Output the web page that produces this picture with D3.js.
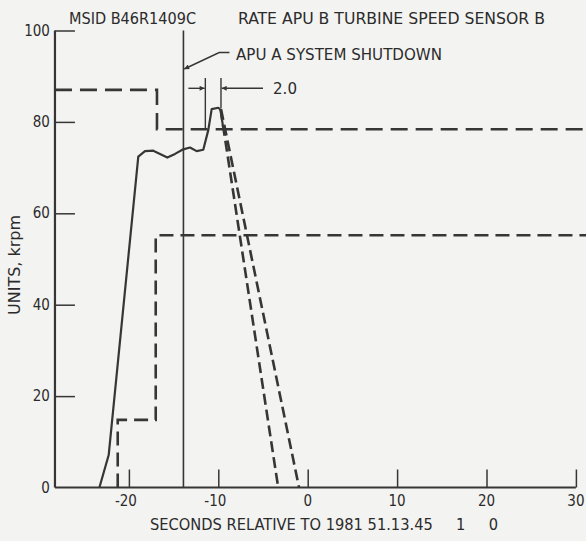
<!DOCTYPE html>
<html><head><meta charset="utf-8">
<script src="https://cdn.jsdelivr.net/npm/d3@7"></script>
<style>
html,body{margin:0;padding:0;background:#f3f3f1;}
svg{display:block;}
text{font-family:"DejaVu Sans Condensed","DejaVu Sans",sans-serif;font-stretch:condensed;fill:#2b2b2b;white-space:pre;}
</style></head>
<body>
<script>
// ---- data ----
const xTicks = [-20, -10, 0, 10, 20, 30];
const yTicks = [0, 20, 40, 60, 80, 100];
const xTickLabels = ["-20", "-10", "0", "10", "20", "30"];
const yTickLabels = ["0", "20", "40", "60", "80", "100"];

// solid trace (sensor B speed)
const solidT = [-23.3, -22.26, -18.95, -18.2, -17.27, -16.52, -15.7, -14.84, -13.92, -13.17, -12.42, -11.68, -11.12, -10.74, -10.0, -9.73, -9.45];
const solidV = [0, 7.1, 72.4, 73.6, 73.7, 73.0, 72.2, 73.0, 74.0, 74.4, 73.6, 73.9, 78.2, 82.8, 83.1, 82.6, 78.6];

// dashed trace A (upper steps)
const dashAT = [-28.27, -16.86, -16.86, 31.5];
const dashAV = [87.0, 87.0, 78.4, 78.4];

// dashed trace B (lower steps)
const dashBT = [-21.25, -21.25, -17.0, -17.0, 31.5];
const dashBV = [0, 14.8, 14.8, 55.2, 55.2];

// dashed decay lines
const decay1T = [-9.75, -3.3];
const decay1V = [82.8, 0];
const decay2T = [-9.7, -0.97];
const decay2V = [82.8, 0];

// events
const shutdownT = -13.9;
const intervalT = [-11.45, -9.7];

const W = 586, H = 541;
const svg = d3.select("body").append("svg").attr("width", W).attr("height", H);
svg.append("rect").attr("width", W).attr("height", H).attr("fill", "#f3f3f1");

const x = d3.scaleLinear().domain([-30, 30]).range([307.7 - 8.94 * 30, 307.7 + 8.94 * 30]);
const y = d3.scaleLinear().domain([0, 100]).range([487.5, 30.5]);
const xMin = -28.27, xMax = 30;
const ink = "#363636";

const g = svg.append("g");

// axes (ticks inward)
const xAxis = d3.axisBottom(x).tickValues(xTicks).tickSize(-18).tickFormat(() => "");
const yAxis = d3.axisLeft(y).tickValues(yTicks.filter(v => v > 0)).tickSize(-20).tickFormat(() => "");
const xa = g.append("g").attr("transform", `translate(0,${y(0)})`).call(xAxis);
xa.select(".domain").remove();
xa.selectAll("line").attr("stroke", ink).attr("stroke-width", 1.5);
const ya = g.append("g").attr("transform", `translate(${x(xMin)},0)`).call(yAxis);
ya.select(".domain").remove();
ya.selectAll("line").attr("stroke", ink).attr("stroke-width", 1.5);

g.append("line").attr("x1", x(xMin)).attr("x2", x(xMax)).attr("y1", y(0)).attr("y2", y(0))
  .attr("stroke", ink).attr("stroke-width", 2.2);
g.append("line").attr("x1", x(xMin)).attr("x2", x(xMin)).attr("y1", y(0)).attr("y2", y(100))
  .attr("stroke", ink).attr("stroke-width", 2.2);

// tick labels
g.selectAll(".xl").data(xTicks).enter().append("text")
  .attr("x", d => x(d) - (d < 0 ? 3 : 0)).attr("y", y(0) + 18).attr("text-anchor", "middle")
  .attr("font-size", 15).text((d, i) => xTickLabels[i]);
g.selectAll(".yl").data(yTicks).enter().append("text")
  .attr("x", x(xMin) - 5).attr("y", d => y(d) + 5).attr("text-anchor", "end")
  .attr("font-size", 15).text((d, i) => yTickLabels[i]);

// axis titles
svg.append("text").attr("x", 150).attr("y", 530).attr("font-size", 15.5)
  .attr("textLength", 348).attr("lengthAdjust", "spacingAndGlyphs")
  .text("SECONDS RELATIVE TO 1981 51.13.45     1     0");
svg.append("text").attr("transform", "translate(20,265) rotate(-90)").attr("text-anchor", "middle")
  .attr("font-size", 15.5).attr("textLength", 100).attr("lengthAdjust", "spacingAndGlyphs")
  .text("UNITS, krpm");

// header
svg.append("text").attr("x", 69).attr("y", 23.5).attr("font-size", 15.5)
  .attr("textLength", 127).attr("lengthAdjust", "spacingAndGlyphs").text("MSID B46R1409C");
svg.append("text").attr("x", 238).attr("y", 24).attr("font-size", 15.5)
  .attr("textLength", 307).attr("lengthAdjust", "spacingAndGlyphs").text("RATE APU B TURBINE SPEED SENSOR B");

const line = d3.line().x(d => x(d[0])).y(d => y(d[1]));
const zip = (a, b) => a.map((v, i) => [v, b[i]]);

// shutdown vertical line
g.append("line").attr("x1", x(shutdownT)).attr("x2", x(shutdownT)).attr("y1", y(100)).attr("y2", y(0))
  .attr("stroke", ink).attr("stroke-width", 1.6);

// dashed traces
g.append("path").attr("d", line(zip(dashAT, dashAV))).attr("fill", "none").attr("stroke", ink)
  .attr("stroke-width", 2.6).attr("stroke-dasharray", "17,8");
g.append("path").attr("d", line(zip(dashBT, dashBV))).attr("fill", "none").attr("stroke", ink)
  .attr("stroke-width", 2.6).attr("stroke-dasharray", "14,7");
g.append("path").attr("d", line(zip(decay1T, decay1V))).attr("fill", "none").attr("stroke", ink)
  .attr("stroke-width", 2.6).attr("stroke-dasharray", "11,5");
g.append("path").attr("d", line(zip(decay2T, decay2V))).attr("fill", "none").attr("stroke", ink)
  .attr("stroke-width", 2.6).attr("stroke-dasharray", "11,5");

// solid trace
g.append("path").attr("d", line(zip(solidT, solidV))).attr("fill", "none").attr("stroke", ink)
  .attr("stroke-width", 2.2).attr("stroke-linejoin", "round");

// annotation: shutdown leader
const defs = svg.append("defs");
defs.append("marker").attr("id", "ah").attr("viewBox", "0 0 10 10").attr("refX", 10).attr("refY", 5)
  .attr("markerWidth", 7).attr("markerHeight", 5).attr("markerUnits", "userSpaceOnUse").attr("orient", "auto")
  .append("path").attr("d", "M0,0L10,5L0,10z").attr("fill", ink);
svg.append("path")
  .attr("d", `M${x(-8.75)},52.5 L${x(-9.9)},52.5 L${x(shutdownT) + 0.8},69`)
  .attr("fill", "none").attr("stroke", ink).attr("stroke-width", 1.4).attr("marker-end", "url(#ah)");
svg.append("text").attr("x", 236).attr("y", 60).attr("font-size", 16.5)
  .attr("textLength", 206).attr("lengthAdjust", "spacingAndGlyphs").text("APU A SYSTEM SHUTDOWN");

// annotation: 2.0 s interval
const arrowV = 87.35;
svg.append("line").attr("x1", x(intervalT[0])).attr("x2", x(intervalT[0])).attr("y1", y(89.6)).attr("y2", y(78.5))
  .attr("stroke", ink).attr("stroke-width", 1.4);
svg.append("line").attr("x1", x(intervalT[1])).attr("x2", x(intervalT[1])).attr("y1", y(89.6)).attr("y2", y(83))
  .attr("stroke", ink).attr("stroke-width", 1.4);
svg.append("line").attr("x1", x(intervalT[0] - 1.9)).attr("x2", x(intervalT[0]) - 0.7).attr("y1", y(arrowV)).attr("y2", y(arrowV))
  .attr("stroke", ink).attr("stroke-width", 1.4).attr("marker-end", "url(#ah)");
svg.append("line").attr("x1", x(intervalT[1] + 4.7)).attr("x2", x(intervalT[1]) + 0.7).attr("y1", y(arrowV)).attr("y2", y(arrowV))
  .attr("stroke", ink).attr("stroke-width", 1.4).attr("marker-end", "url(#ah)");
svg.append("text").attr("x", 273).attr("y", 94.3).attr("font-size", 15.5)
  .attr("textLength", 24).attr("lengthAdjust", "spacingAndGlyphs").text("2.0");
</script>
</body></html>
